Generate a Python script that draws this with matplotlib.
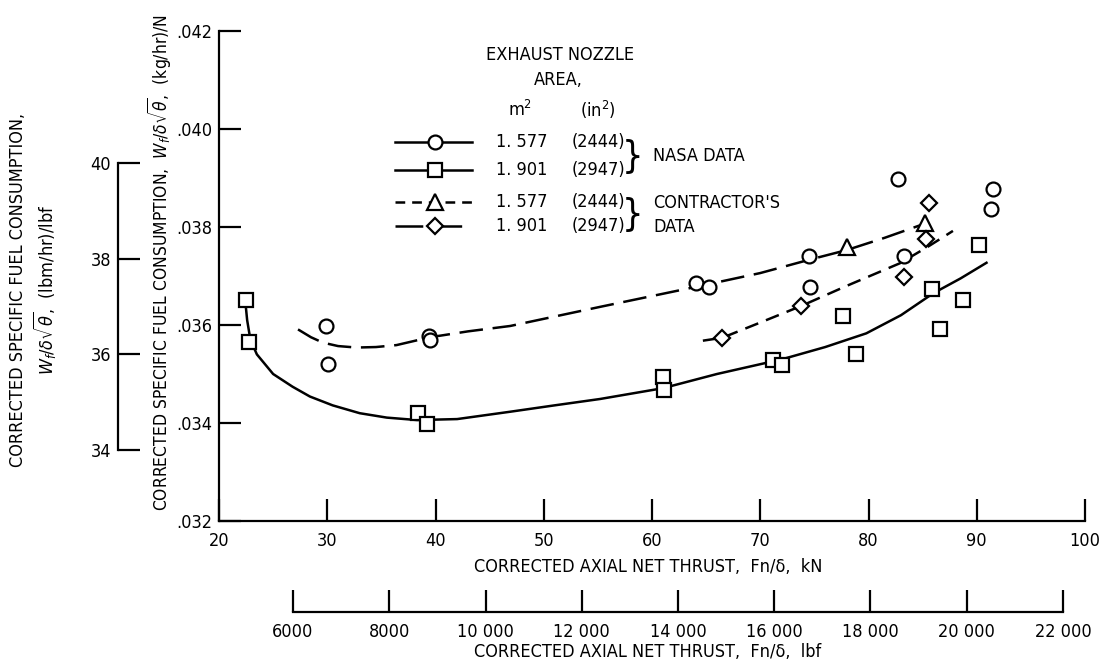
import matplotlib
matplotlib.use("Agg")
import matplotlib.pyplot as plt
from matplotlib.lines import Line2D
from matplotlib import font_manager as fm

# pick an installed condensed sans face, if any
cond_family, cond_stretch = 'DejaVu Sans', 'normal'
pref = ['Liberation Sans Narrow', 'DejaVu Sans', 'Roboto Condensed', 'Open Sans Condensed',
        'Noto Sans', 'Roboto', 'Open Sans']
found = {}
for f in fm.fontManager.ttflist:
    st = str(f.stretch)
    isc = ('condensed' in st) or ('Narrow' in f.name) or ('Condensed' in f.name)
    if isc and f.style == 'normal' and f.weight in (400, 'normal', 'regular'):
        found.setdefault(f.name, st)
for p in pref:
    if p in found:
        cond_family, cond_stretch = p, found[p]
        break
else:
    if found:
        cond_family = sorted(found)[0]
        cond_stretch = found[cond_family]

plt.rcParams['font.family'] = [cond_family, 'DejaVu Sans']
plt.rcParams['font.stretch'] = cond_stretch
plt.rcParams['lines.scale_dashes'] = False
plt.rcParams['mathtext.fontset'] = 'dejavusans'

# ---------------- data ----------------
# NASA data, nozzle area 1.577 m^2 (circles)
nasa_1577_thrust = [29.9, 30.1, 39.4, 39.5, 64.1, 65.3, 74.5, 74.6, 82.7, 83.3, 91.5, 91.3]
nasa_1577_sfc = [0.03598, 0.03520, 0.03578, 0.03570, 0.03685, 0.03678, 0.03741, 0.03678,
                 0.03897, 0.03741, 0.03877, 0.03836]
# NASA data, nozzle area 1.901 m^2 (squares)
nasa_1901_thrust = [22.5, 22.8, 38.4, 39.2, 61.0, 61.1, 71.2, 72.0, 77.6, 78.8, 85.9, 88.7, 86.6, 90.2]
nasa_1901_sfc = [0.03651, 0.03565, 0.03420, 0.03397, 0.03494, 0.03467, 0.03529, 0.03518,
                 0.03619, 0.03541, 0.03673, 0.03652, 0.03592, 0.03763]
# Contractor's data, 1.577 m^2 (triangles)
con_1577_thrust = [78.0, 85.2]
con_1577_sfc = [0.03760, 0.03809]
# Contractor's data, 1.901 m^2 (diamonds)
con_1901_thrust = [66.5, 73.8, 83.3, 85.3, 85.6]
con_1901_sfc = [0.03574, 0.03639, 0.03697, 0.03775, 0.03848]

# faired curves
fair_solid_x = [22.4, 22.6, 22.9, 23.5, 25.0, 26.8, 28.4, 30.5, 33.0, 35.5, 38.3, 42.0, 46.9,
                51.0, 55.2, 61.0, 66.0, 72.0, 76.0, 79.8, 83.0, 86.0, 88.5, 90.9]
fair_solid_y = [0.03655, 0.03610, 0.03570, 0.03540, 0.03500, 0.03474, 0.03454, 0.03436, 0.03420,
                0.03411, 0.03406, 0.03408, 0.03423, 0.03436, 0.03449, 0.03471, 0.03500, 0.03530,
                0.03555, 0.03583, 0.03620, 0.03665, 0.03695, 0.03727]
fair_long_x = [27.3, 28.5, 29.6, 31.0, 32.7, 34.5, 36.4, 39.5, 43.0, 46.9, 55.2, 64.1, 70.0,
               74.5, 78.0, 81.5, 85.6]
fair_long_y = [0.03591, 0.03575, 0.03564, 0.03557, 0.03554, 0.03555, 0.03559, 0.03575, 0.03587,
               0.03598, 0.03637, 0.03678, 0.03706, 0.03733, 0.03753, 0.03778, 0.03810]
fair_short_x = [64.7, 66.5, 70.0, 73.8, 78.0, 82.9, 85.5, 87.8]
fair_short_y = [0.03568, 0.03574, 0.03605, 0.03639, 0.03680, 0.03726, 0.03760, 0.03792]

kn_ticks = [20, 30, 40, 50, 60, 70, 80, 90, 100]
sfc_si_ticks = [0.032, 0.034, 0.036, 0.038, 0.040, 0.042]
sfc_si_labels = ['.032', '.034', '.036', '.038', '.040', '.042']
lbf_ticks = [6000, 8000, 10000, 12000, 14000, 16000, 18000, 20000, 22000]
lbf_labels = ['6000', '8000', '10 000', '12 000', '14 000', '16 000', '18 000', '20 000', '22 000']
sfc_eng_ticks = [34, 36, 38, 40]

legend_area_m2 = ['1. 577', '1. 901', '1. 577', '1. 901']
legend_area_in2 = ['(2444)', '(2947)', '(2444)', '(2947)']

# ---------------- layout ----------------
W, H = 1106, 671
fig = plt.figure(figsize=(W / 100, H / 100), dpi=100)


def fx(px):
    return px / W


def fy(py):
    return 1 - py / H


FS = 13
LW = 1.6
TICKLEN = 16

# main axes
ax = fig.add_axes([fx(219), fy(521), fx(1085) - fx(219), fy(31) - fy(521)])
ax.set_xlim(20, 100)
ax.set_ylim(0.032, 0.042)
for s in ['top', 'right']:
    ax.spines[s].set_visible(False)
for s in ['left', 'bottom']:
    ax.spines[s].set_linewidth(LW)
ax.set_xticks(kn_ticks)
ax.set_xticklabels([str(t) for t in kn_ticks])
ax.set_yticks(sfc_si_ticks)
ax.set_yticklabels(sfc_si_labels)
ax.tick_params(direction='in', length=TICKLEN, width=LW, labelsize=FS)
ax.tick_params(axis='x', pad=8)
ax.tick_params(axis='y', pad=5)
ax.patch.set_visible(False)

mk = dict(linestyle='none', markerfacecolor='white', markeredgecolor='black',
          markeredgewidth=1.6, zorder=5, clip_on=False)

ax.plot(fair_solid_x, fair_solid_y, color='black', lw=1.8, zorder=3)
l1, = ax.plot(fair_long_x, fair_long_y, color='black', lw=1.8, zorder=3)
l1.set_dashes((17, 7))
l2, = ax.plot(fair_short_x, fair_short_y, color='black', lw=1.8, zorder=3)
l2.set_dashes((10, 6))

ax.plot(nasa_1577_thrust, nasa_1577_sfc, marker='o', markersize=10, **mk)
ax.plot(nasa_1901_thrust, nasa_1901_sfc, marker='s', markersize=10, **mk)
ax.plot(con_1577_thrust, con_1577_sfc, marker='^', markersize=11, **mk)
ax.plot(con_1901_thrust, con_1901_sfc, marker='D', markersize=8, **mk)

fig.text(fx(648), fy(567), 'CORRECTED AXIAL NET THRUST,  Fn/δ,  kN', ha='center', va='center',
         fontsize=FS)
fig.text(fx(160), fy(262),
         r'CORRECTED SPECIFIC FUEL CONSUMPTION,  $W_f/\delta\sqrt{\theta}$,  (kg/hr)/N',
         rotation=90, ha='center', va='center', fontsize=FS - 0.5)

# lbf axis
axb = fig.add_axes([fx(293), fy(612), fx(1063) - fx(293), 0.0005])
axb.set_xlim(6000, 22000)
axb.set_ylim(0, 1)
for s in ['top', 'right', 'left']:
    axb.spines[s].set_visible(False)
axb.spines['bottom'].set_linewidth(LW)
axb.set_yticks([])
axb.set_xticks(lbf_ticks)
axb.set_xticklabels(lbf_labels)
axb.tick_params(axis='x', direction='in', length=TICKLEN, width=LW, labelsize=FS, pad=8)
axb.patch.set_visible(False)
fig.text(fx(648), fy(652), 'CORRECTED AXIAL NET THRUST,  Fn/δ,  lbf', ha='center', va='center',
         fontsize=FS)

# secondary (lbm/hr)/lbf axis
axl = fig.add_axes([fx(118), fy(450), 0.0005, fy(163) - fy(450)])
axl.set_ylim(34, 40)
axl.set_xlim(0, 1)
for s in ['top', 'right', 'bottom']:
    axl.spines[s].set_visible(False)
axl.spines['left'].set_linewidth(LW)
axl.set_xticks([])
axl.set_yticks(sfc_eng_ticks)
axl.set_yticklabels([str(t) for t in sfc_eng_ticks])
axl.tick_params(axis='y', direction='in', length=TICKLEN, width=LW, labelsize=FS, pad=5)
axl.patch.set_visible(False)
fig.text(fx(34), fy(290),
         'CORRECTED SPECIFIC FUEL CONSUMPTION,\n' + r'$W_f/\delta\sqrt{\theta}$,  (lbm/hr)/lbf',
         rotation=90, ha='center', va='center', fontsize=FS, multialignment='center',
         linespacing=1.2)

# ---------------- legend (drawn in figure pixels) ----------------
fig.text(fx(560), fy(55), 'EXHAUST NOZZLE', ha='center', va='center', fontsize=FS)
fig.text(fx(558), fy(80), 'AREA,', ha='center', va='center', fontsize=FS)
fig.text(fx(520), fy(110), r'm$^2$', ha='center', va='center', fontsize=FS)
fig.text(fx(598), fy(110), r'(in$^2$)', ha='center', va='center', fontsize=FS)

rows_y = [142, 170, 202, 226]
markers = [('o', 10), ('s', 10), ('^', 11), ('D', 8)]
styles = [None, None, (7, 5), (20, 8)]
for i, yy in enumerate(rows_y):
    ln = Line2D([fx(395), fx(472)], [fy(yy), fy(yy)], transform=fig.transFigure,
                color='black', lw=1.8)
    if styles[i] is not None:
        ln.set_dashes(styles[i])
    fig.add_artist(ln)
    m, ms = markers[i]
    fig.add_artist(Line2D([fx(435)], [fy(yy)], transform=fig.transFigure, marker=m,
                          markersize=ms, markerfacecolor='white', markeredgecolor='black',
                          markeredgewidth=1.6, linestyle='none'))
    fig.text(fx(522), fy(yy), legend_area_m2[i], ha='center', va='center', fontsize=FS)
    fig.text(fx(598), fy(yy), legend_area_in2[i], ha='center', va='center', fontsize=FS)

fig.text(fx(632), fy(157), '}', ha='center', va='center', fontsize=27,
         family='DejaVu Sans', stretch='condensed', weight='light')
fig.text(fx(632), fy(215), '}', ha='center', va='center', fontsize=27,
         family='DejaVu Sans', stretch='condensed', weight='light')
fig.text(fx(653), fy(156), 'NASA DATA', ha='left', va='center', fontsize=FS)
fig.text(fx(653), fy(203), "CONTRACTOR'S", ha='left', va='center', fontsize=FS)
fig.text(fx(653), fy(227), 'DATA', ha='left', va='center', fontsize=FS)

fig.savefig('out.png', dpi=100)
